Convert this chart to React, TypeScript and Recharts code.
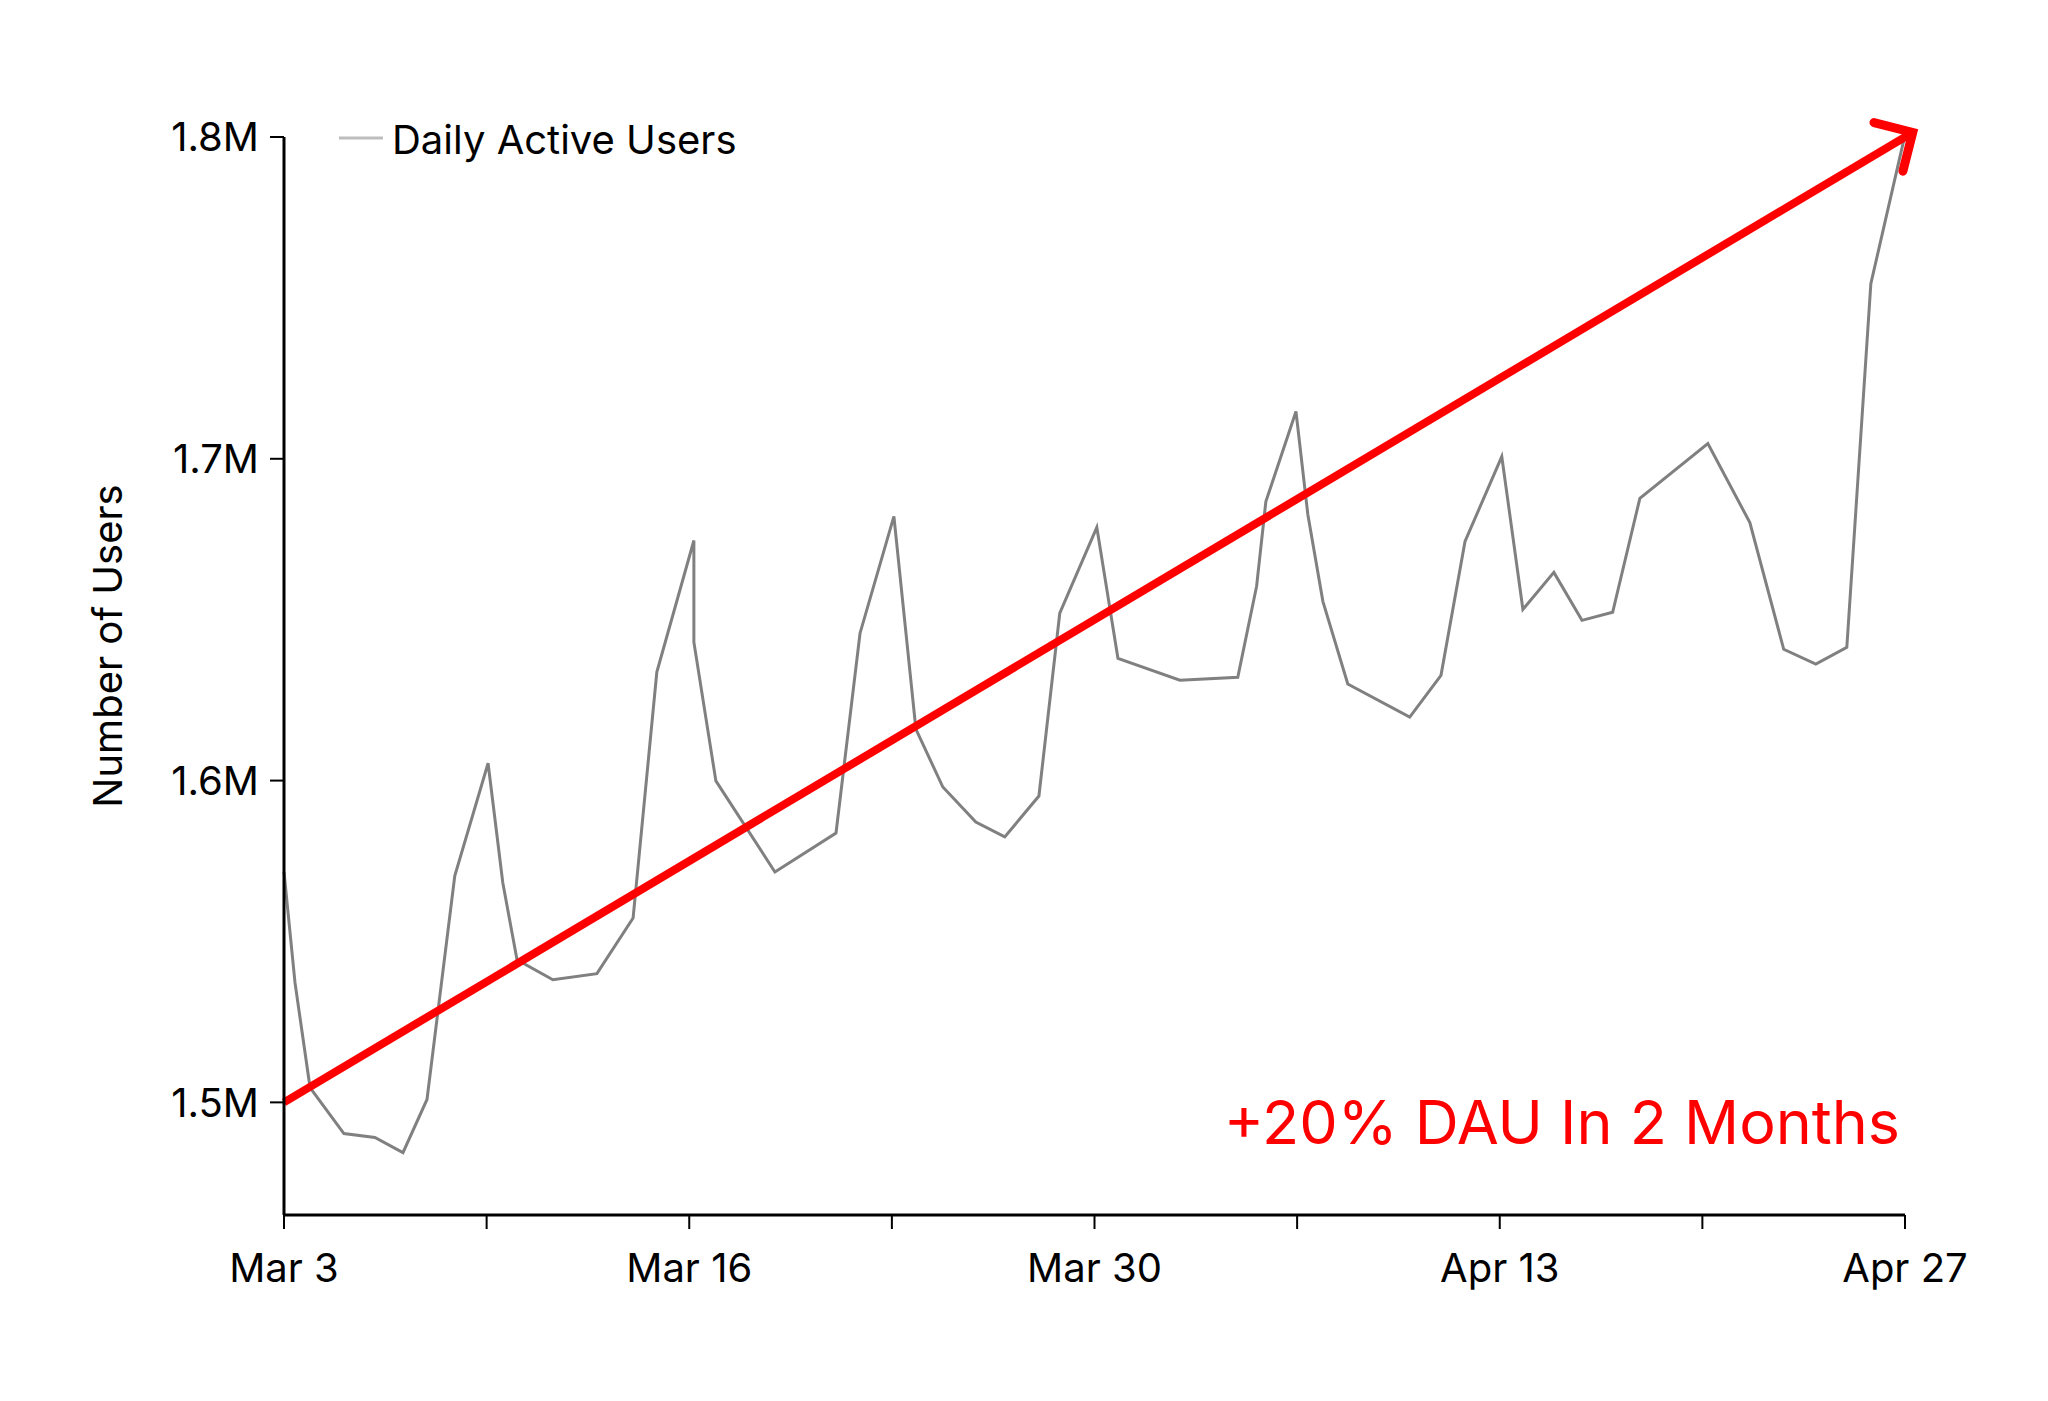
import { LineChart, Line, XAxis, YAxis, ReferenceLine } from "recharts"

// day offsets from the start of the axis
const dayOffsets = [
  0, 0.38, 0.9, 2.07, 3.14, 4.11, 4.94, 5.9, 7.05, 7.56, 8.05, 9.29, 10.81,
  12.06, 12.88, 14.16, 14.16, 14.92, 16.96, 19.07, 19.9, 21.07, 21.83, 22.76,
  23.9, 24.9, 26.08, 26.8, 28.08, 28.81, 30.95, 32.95, 33.6, 33.92, 34.96,
  35.37, 35.89, 36.75, 38.89, 39.97, 40.8, 42.07, 42.8, 43.87, 44.84, 45.9,
  46.84, 49.19, 50.64, 51.81, 52.92, 53.99, 54.82, 55.96,
]

const dailyActiveUsers = [
  1571600, 1537200, 1504600, 1490300, 1489100, 1484400, 1500900, 1570400,
  1605400, 1568200, 1544300, 1538100, 1540000, 1557300, 1633700, 1674600,
  1643000, 1599900, 1571600, 1583700, 1645800, 1682100, 1616000, 1598000,
  1587100, 1582500, 1595200, 1652000, 1678700, 1638000, 1631200, 1632100,
  1660400, 1686700, 1714700, 1682700, 1655700, 1630000, 1619700, 1632700,
  1674300, 1700700, 1653200, 1664700, 1649800, 1652300, 1687700, 1704700,
  1680200, 1640800, 1636200, 1641400, 1754400, 1799100,
]

const tickDays = [0, 7, 14, 21, 28, 35, 42, 49, 56]
const tickLabels = ["Mar 3", "", "Mar 16", "", "Mar 30", "", "Apr 13", "", "Apr 27"]

const yTicks = [1500000, 1600000, 1700000, 1800000]

const trendDays = [0, 56]
const trendValues = [1500000, 1800000]

const data = dayOffsets.map((day, i) => ({ day, users: dailyActiveUsers[i] }))

const FONT = "Inter, 'Noto Sans', sans-serif"

function formatMillions(value: number): string {
  return `${(value / 1000000).toFixed(1)}M`
}

function TrendArrow(props: any) {
  const { x1, y1, x2, y2, stroke, strokeWidth } = props
  const angle = Math.atan2(y2 - y1, x2 - x1)
  const tipX = x2 + Math.cos(angle) * 9
  const tipY = y2 + Math.sin(angle) * 9
  const wing = 40
  const back = angle + Math.PI
  const w1x = tipX + Math.cos(back - Math.PI / 4) * wing
  const w1y = tipY + Math.sin(back - Math.PI / 4) * wing
  const w2x = tipX + Math.cos(back + Math.PI / 4) * wing
  const w2y = tipY + Math.sin(back + Math.PI / 4) * wing
  return (
    <g>
      <line
        x1={x1}
        y1={y1}
        x2={tipX - Math.cos(angle) * 4}
        y2={tipY - Math.sin(angle) * 4}
        stroke={stroke}
        strokeWidth={strokeWidth}
      />
      <polyline
        points={`${w1x},${w1y} ${tipX},${tipY} ${w2x},${w2y}`}
        fill="none"
        stroke={stroke}
        strokeWidth={strokeWidth + 1}
        strokeLinecap="round"
        strokeLinejoin="miter"
      />
    </g>
  )
}

function YAxisTitle(props: any) {
  const { viewBox } = props
  const x = viewBox.x + 138 - 150
  const y = 646
  return (
    <text
      x={x}
      y={y}
      transform={`rotate(-90, ${x}, ${y})`}
      textAnchor="middle"
      fontSize={40}
      fontFamily={FONT}
      fill="#000"
    >
      Number of Users
    </text>
  )
}

export default function App() {
  return (
    <div
      style={{
        position: "absolute",
        left: 0,
        top: 0,
        width: 2048,
        height: 1401,
        background: "#fff",
        fontFamily: FONT,
      }}
    >
      <LineChart
        width={2048}
        height={1401}
        data={data}
        margin={{ top: 137, right: 143, bottom: 106, left: 134 }}
      >
        <XAxis
          dataKey="day"
          type="number"
          domain={[0, 56]}
          ticks={tickDays}
          interval={0}
          height={80}
          tickFormatter={(v: number) => tickLabels[tickDays.indexOf(v)] ?? ""}
          tickSize={14}
          tickMargin={25}
          axisLine={{ stroke: "#000", strokeWidth: 3 }}
          tickLine={{ stroke: "#000", strokeWidth: 2 }}
          tick={{ fill: "#000", fontSize: 40, fontFamily: FONT }}
        />
        <YAxis
          type="number"
          domain={[1465000, 1800000]}
          ticks={yTicks}
          interval={0}
          width={150}
          tickFormatter={formatMillions}
          tickSize={14}
          tickMargin={11}
          axisLine={{ stroke: "#000", strokeWidth: 3 }}
          tickLine={{ stroke: "#000", strokeWidth: 2 }}
          tick={{ fill: "#000", fontSize: 40, fontFamily: FONT }}
          label={{ content: YAxisTitle }}
        />
        <Line
          type="linear"
          dataKey="users"
          stroke="#808080"
          strokeWidth={3}
          dot={false}
          isAnimationActive={false}
        />
        <ReferenceLine
          segment={[
            { x: trendDays[0], y: trendValues[0] },
            { x: trendDays[1], y: trendValues[1] },
          ]}
          stroke="#ff0000"
          strokeWidth={8}
          ifOverflow="visible"
          shape={TrendArrow}
        />
        <g>
          <line x1={339} y1={138} x2={383} y2={138} stroke="#bdbdbd" strokeWidth={3} />
          <text x={392} y={154} fontSize={40} fontFamily={FONT} fill="#000">
            Daily Active Users
          </text>
        </g>
        <text
          x={1900}
          y={1144}
          textAnchor="end"
          fontSize={61}
          fontFamily={FONT}
          fill="#ff0000"
        >
          +20% DAU In 2 Months
        </text>
      </LineChart>
    </div>
  )
}
